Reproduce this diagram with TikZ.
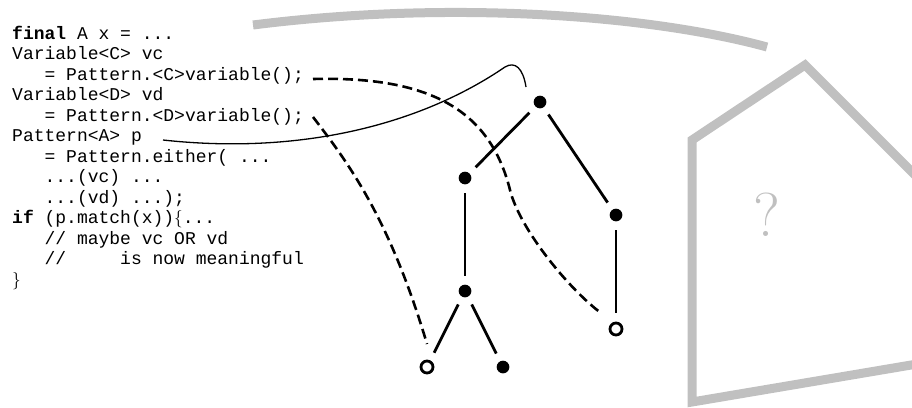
\documentclass[tikz,border=0pt]{standalone}
\usepackage{fontspec}
\setmonofont{Liberation Mono}
\definecolor{greyc}{RGB}{192,192,192}
\newcommand\codefont{\ttfamily\fontsize{18}{20}\selectfont}
\newcommand\ind[1]{\hphantom{#1}}
\begin{document}
\begin{tikzpicture}[x=1pt,y=-1pt,
  code/.style={anchor=base west,inner sep=0pt,font=\codefont},
  full/.style={circle,fill=black,inner sep=0pt,minimum size=12.7pt},
  hollow/.style={circle,draw=black,line width=2.8pt,fill=white,inner sep=0pt,minimum size=12pt},
  treeedge/.style={line width=2.8pt,shorten >=8.5pt,shorten <=8.5pt},
  dashlink/.style={line width=2.6pt,dash pattern=on 10pt off 5pt},
  thinlink/.style={line width=1.3pt},
  greyline/.style={draw=greyc,line width=9pt}]
\useasboundingbox (0,0) rectangle (912,407);
\begin{scope}
\clip (0,0) rectangle (912,407);
% grey shapes
\draw[greyline] (253,25) .. controls (450,0) and (650,15) .. (767,47);
\draw[greyline,line join=miter] (692,140) -- (805,65) -- (1000,260) -- (1000,350) -- (692,402) -- cycle;
\node[text=greyc,inner sep=0pt,font=\fontsize{62}{62}\selectfont] (q) at (767,215) {?};
\end{scope}
% code
\node[code] (l0) at (12,39.0) {\textbf{final} A x = ...};
\node[code] (l1) at (12,59.5) {Variable<C> vc};
\node[code] (l2) at (12,80.0) {\ind{xxx}= Pattern.<C>variable();};
\node[code] (l3) at (12,100.5) {Variable<D> vd};
\node[code] (l4) at (12,121.0) {\ind{xxx}= Pattern.<D>variable();};
\node[code] (l5) at (12,141.5) {Pattern<A> p};
\node[code] (l6) at (12,162.0) {\ind{xxx}= Pattern.either( ...};
\node[code] (l7) at (12,182.5) {\ind{xxx}...(vc) ...};
\node[code] (l8) at (12,203.0) {\ind{xxx}...(vd) ...);};
\node[code] (l9) at (12,223.5) {\textbf{if} (p.match(x))$\{$...};
\node[code] (l10) at (12,244.0) {\ind{xxx}// maybe vc OR vd};
\node[code] (l11) at (12,264.5) {\ind{xxx}//\ind{xxxx} is now meaningful};
\node[code] (l12) at (12,285.0) {$\}$};
% tree
\node[full] (r) at (540,102) {};
\node[full] (a) at (465,178) {};
\node[full] (b) at (616,215) {};
\node[full] (c) at (465,291) {};
\node[hollow] (d) at (616,329) {};
\node[hollow] (e) at (427,367) {};
\node[full] (f) at (503,367) {};
\draw[treeedge] (r) -- (a);
\draw[treeedge] (r) -- (b);
\draw[treeedge] (a) -- (c);
\draw[treeedge] (b) -- (d);
\draw[treeedge] (c) -- (e);
\draw[treeedge] (c) -- (f);
% connectors
\coordinate (s1) at (313,79);
\coordinate (t1) at (601,313);
\coordinate (s2) at (313,117);
\coordinate (t2) at (427,344);
\coordinate (s3) at (163,140);
\coordinate (t3) at (526,87);
\draw[dashlink] (s1) .. controls (430,76) and (490,110) .. (510,190)
  .. controls (520,230) and (570,290) .. (t1);
\draw[dashlink] (s2) .. controls (350,165) and (390,220) .. (t2);
\draw[thinlink] (s3) .. controls (300,155) and (420,125) .. (505,67)
  .. controls (515,61) and (523,68) .. (t3);
\end{tikzpicture}
\end{document}
